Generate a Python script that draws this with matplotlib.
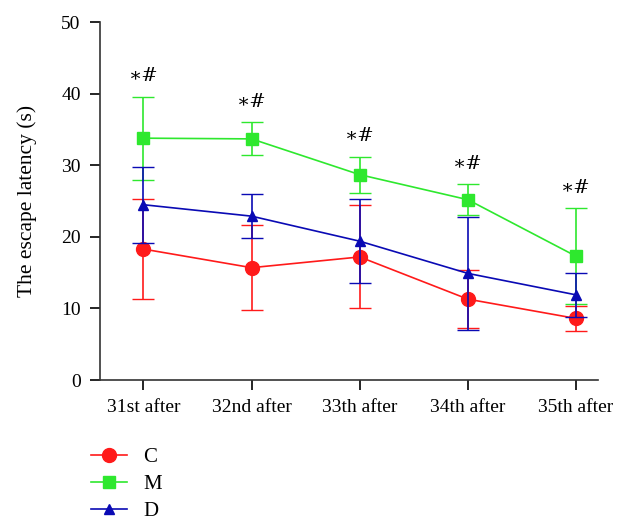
import numpy as np
import matplotlib
matplotlib.use("Agg")
import matplotlib.pyplot as plt

plt.rcParams["font.family"] = ["Liberation Serif", "DejaVu Serif"]

# data
days = ["31st after", "32nd after", "33th after", "34th after", "35th after"]
c_mean = [18.3, 15.7, 17.2, 11.3, 8.6]
c_err = [7.0, 5.9, 7.2, 4.1, 1.7]
m_mean = [33.8, 33.7, 28.7, 25.2, 17.3]
m_err = [5.8, 2.3, 2.5, 2.2, 6.7]
d_mean = [24.5, 22.9, 19.4, 14.9, 11.9]
d_err = [5.3, 3.1, 5.9, 7.9, 3.1]
marks = ["\u2217#"] * 5

x = np.arange(len(days))

fig = plt.figure(figsize=(6.42, 5.30), dpi=100)
ax = fig.add_axes([0.156, 0.283, 0.775, 0.675])

ax.errorbar(x, c_mean, yerr=c_err, color="#ff1a1a", marker="o", markersize=10,
            capsize=8, lw=1.2, elinewidth=1.2, label="C", zorder=2)
ax.errorbar(x, m_mean, yerr=m_err, color="#2ee82e", marker="s", markersize=8,
            capsize=8, lw=1.2, elinewidth=1.2, label="M", zorder=3)
ax.errorbar(x, d_mean, yerr=d_err, color="#0a0ab4", marker="^", markersize=7,
            capsize=8, lw=1.2, elinewidth=1.2, label="D", zorder=4)

for xi, m, e, t in zip(x, m_mean, m_err, marks):
    ax.text(xi, m + e + 1.6, t, ha="center", va="bottom", fontsize=14,
            family=["DejaVu Serif", "Liberation Serif"])

ax.set_xlim(-0.4, 4.2)
ax.set_ylim(0, 50)
ax.set_yticks(range(0, 51, 10))
ax.set_xticks(x)
ax.set_xticklabels(days)
ax.set_ylabel("The escape latency (s)", fontsize=15.5, labelpad=17)
ax.tick_params(labelsize=14, direction="out", length=7, width=1.2, pad=7)
for s in ["top", "right"]:
    ax.spines[s].set_visible(False)
for s in ["left", "bottom"]:
    ax.spines[s].set_linewidth(1.2)
    ax.spines[s].set_color("#333333")

h, l = ax.get_legend_handles_labels()
h = [hh[0] for hh in h]
fig.legend(h, l, loc="upper left", bbox_to_anchor=(0.128, 0.171), frameon=False,
           fontsize=15, handlelength=1.75, handletextpad=0.77, labelspacing=0.35,
           borderaxespad=0)

fig.savefig("out.png", dpi=100)
